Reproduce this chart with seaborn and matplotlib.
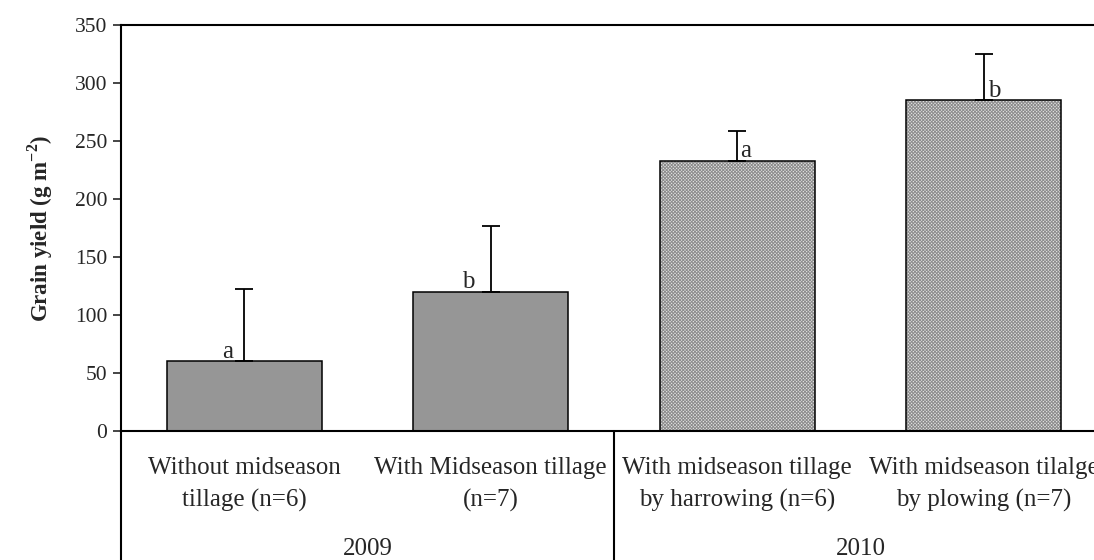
import matplotlib
matplotlib.use("Agg")
import matplotlib.pyplot as plt
import seaborn as sns
import pandas as pd
import numpy as np
from matplotlib.patches import Rectangle

# Treatment groups, yields and standard deviations
years = ["2009", "2009", "2010", "2010"]
treatments = [
    "Without midseason\ntillage (n=6)",
    "With Midseason tillage\n(n=7)",
    "With midseason tillage\nby harrowing (n=6)",
    "With midseason tilalge\nby plowing (n=7)",
]
yield_mean = [60, 120, 233, 285]
yield_sd = [62, 57, 26, 40]
letters = ["a", "b", "a", "b"]
year_labels = ["2009", "2010"]
yticks = [0, 50, 100, 150, 200, 250, 300, 350]

# horizontal offset (points) of each significance letter from its error bar
letter_dx = [-8, -12, 2, 3]

sns.set_theme(style="ticks")
plt.rcParams["font.family"] = ["Liberation Serif", "DejaVu Serif"]
plt.rcParams["mathtext.fontset"] = "custom"
plt.rcParams["mathtext.rm"] = "Liberation Serif"
plt.rcParams["mathtext.bf"] = "Liberation Serif:bold"
plt.rcParams["hatch.linewidth"] = 0.7

df = pd.DataFrame({"treatment": treatments, "yield": yield_mean, "year": years})

W, H = 1094, 560
fig = plt.figure(figsize=(W / 100, H / 100), dpi=100)
left_px, right_px, top_px, bottom_px = 121, 1107, 25, 431
ax = fig.add_axes([left_px / W, (H - bottom_px) / H,
                   (right_px - left_px) / W, (bottom_px - top_px) / H])

sns.barplot(data=df, x="treatment", y="yield", hue="year",
            palette={"2009": "#969696", "2010": "#e4e4e4"},
            dodge=False, width=0.63, edgecolor="black", linewidth=1.1,
            errorbar=None, legend=False, ax=ax)

# 2010 bars: fine gray cross-hatch inside a black outline
for patch, yr in list(zip(ax.patches, years)):
    if yr == "2010":
        patch.set_hatch("xxxxxxxxxx")
        patch.set_edgecolor("#8c8c8c")
        patch.set_linewidth(0)
        outline = Rectangle(patch.get_xy(), patch.get_width(), patch.get_height(),
                            fill=False, edgecolor="black", linewidth=1.1,
                            zorder=patch.get_zorder() + 0.1)
        ax.add_patch(outline)

x = np.arange(len(treatments))
ax.errorbar(x, yield_mean, yerr=[np.zeros(len(x)), yield_sd], fmt="none",
            ecolor="black", elinewidth=1.3, capsize=6.5, capthick=1.3, zorder=5)

for xi, m, lab, dx in zip(x, yield_mean, letters, letter_dx):
    ha = "right" if dx < 0 else "left"
    ax.annotate(lab, (xi, m), xytext=(dx, -1), textcoords="offset points",
                ha=ha, va="bottom", fontsize=18)

ax.set_xlim(-0.5, 3.5)
ax.set_ylim(0, 350)
ax.set_yticks(yticks)
ax.tick_params(axis="y", direction="out", length=6, width=1.2, labelsize=15.5, pad=4)
ax.tick_params(axis="x", length=0, labelbottom=False)
for s in ["left", "bottom", "top", "right"]:
    ax.spines[s].set_linewidth(1.5)
    ax.spines[s].set_color("black")
ax.set_xlabel("")
ax.set_ylabel(r"Grain yield (g m$^{\mathbf{-2}}$)", fontsize=16.5,
              fontweight="bold", labelpad=14)

# Category table below the axis
tr = ax.get_xaxis_transform()
depth = -(H - bottom_px) / (bottom_px - top_px)
for xv in [-0.5, 1.5, 3.5]:
    ax.plot([xv, xv], [0, depth], transform=tr, color="black", lw=1.5,
            clip_on=False)

def yfrac(py):
    return -(py - bottom_px) / (bottom_px - top_px)

for xi, t in zip(x, treatments):
    l1, l2 = t.split("\n")
    ax.text(xi, yfrac(468), l1, transform=tr, ha="center", va="center", fontsize=18)
    ax.text(xi, yfrac(500), l2, transform=tr, ha="center", va="center", fontsize=18)
for i, yl in enumerate(year_labels):
    ax.text(2 * i + 0.5, yfrac(549), yl, transform=tr, ha="center",
            va="center", fontsize=18)

fig.savefig("out.png", dpi=100)
